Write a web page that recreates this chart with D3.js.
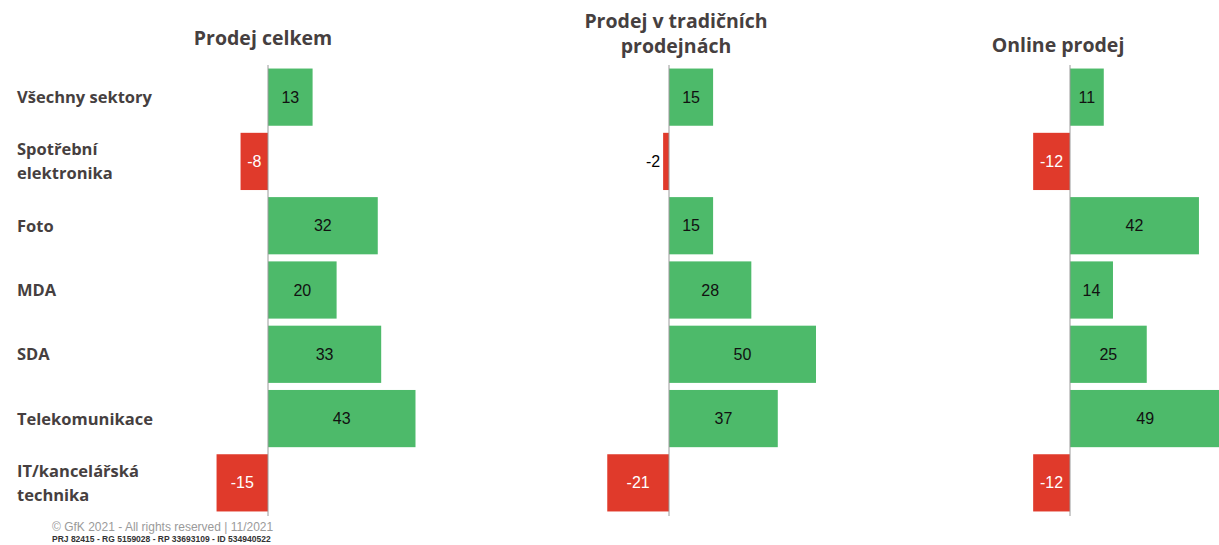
<!DOCTYPE html>
<html>
<head>
	<meta charset="utf-8">
	<title>Prodej - GfK</title>
	<script src="https://d3js.org/d3.v7.min.js"></script>
	<style>
		body { margin: 0; background: #fff; }
	</style>
</head>
<body>

<div id="viz"></div>

<script>

// categories and values (meziroční změna v %)
var categories = ["Všechny sektory", "Spotřební elektronika", "Foto", "MDA", "SDA", "Telekomunikace", "IT/kancelářská technika"];
var categoryLines = [["Všechny sektory"], ["Spotřební", "elektronika"], ["Foto"], ["MDA"], ["SDA"], ["Telekomunikace"], ["IT/kancelářská", "technika"]];

var panelTitles = [["Prodej celkem"], ["Prodej v tradičních", "prodejnách"], ["Online prodej"]];

var totalSales = [13, -8, 32, 20, 33, 43, -15];
var storeSales = [15, -2, 15, 28, 50, 37, -21];
var onlineSales = [11, -12, 42, 14, 25, 49, -12];

var footerLines = ["© GfK 2021 - All rights reserved | 11/2021", "PRJ 82415 - RG 5159028 - RP 33693109 - ID 534940522"];

var width = 1219, height = 545;
var green = "#4dba6a", red = "#e03a2b", textDark = "#463f40";

var svg = d3.select("#viz")
	.append("svg")
		.attr("width", width)
		.attr("height", height);

// shared row scale
var y = d3.scaleBand()
	.domain(categories)
	.range([65, 515])
	.paddingInner(0.11)
	.paddingOuter(0.055);

// each panel: zero position and px per unit
var panels = [
	{ values: totalSales, zero: 268, k: 3.43, titleX: 263, titleY: [45] },
	{ values: storeSales, zero: 669, k: 2.94, titleX: 676, titleY: [28, 53] },
	{ values: onlineSales, zero: 1070, k: 3.07, titleX: 1058, titleY: [52] }
];

// row labels
var labels = svg.append("g");
categories.forEach(function(c, i) {
	var lines = categoryLines[i];
	var cy = y(c) + y.bandwidth() / 2;
	var t = labels.append("text")
		.attr("x", 17)
		.attr("font-family", "Open Sans, sans-serif")
		.attr("font-weight", "bold")
		.attr("font-size", 16.5)
		.attr("fill", textDark);
	lines.forEach(function(l, j) {
		t.append("tspan")
			.attr("x", 17)
			.attr("y", cy + 6 + (j - (lines.length - 1) / 2) * 24)
			.text(l);
	});
});

panels.forEach(function(p, pi) {
	var x = d3.scaleLinear()
		.domain([0, 1])
		.range([p.zero, p.zero + p.k]);

	var g = svg.append("g");

	// title
	var title = g.append("text")
		.attr("text-anchor", "middle")
		.attr("font-family", "Open Sans, sans-serif")
		.attr("font-weight", "bold")
		.attr("font-size", 19.5)
		.attr("fill", textDark);
	panelTitles[pi].forEach(function(l, j) {
		title.append("tspan")
			.attr("x", p.titleX)
			.attr("y", p.titleY[j])
			.text(l);
	});

	var data = categories.map(function(c, i) { return { cat: c, value: p.values[i] }; });

	g.selectAll("rect")
		.data(data)
		.enter().append("rect")
			.attr("x", function(d) { return Math.min(x(0), x(d.value)); })
			.attr("y", function(d) { return y(d.cat); })
			.attr("width", function(d) { return Math.abs(x(d.value) - x(0)); })
			.attr("height", y.bandwidth())
			.attr("fill", function(d) { return d.value < 0 ? red : green; });

	// zero line
	g.append("line")
		.attr("x1", x(0)).attr("x2", x(0))
		.attr("y1", 65).attr("y2", 516)
		.attr("stroke", "#9a9a9a")
		.attr("stroke-width", 1);

	// value labels
	g.selectAll("text.val")
		.data(data)
		.enter().append("text")
			.attr("class", "val")
			.attr("font-family", "Liberation Sans, Arial, sans-serif")
			.attr("font-size", 16)
			.attr("y", function(d) { return y(d.cat) + y.bandwidth() / 2 + 5.5; })
			.attr("x", function(d) {
				var w = Math.abs(x(d.value) - x(0));
				if (w < 20) return x(d.value) - 3;
				return (x(0) + x(d.value)) / 2;
			})
			.attr("text-anchor", function(d) {
				return Math.abs(x(d.value) - x(0)) < 20 ? "end" : "middle";
			})
			.attr("fill", function(d) {
				if (Math.abs(x(d.value) - x(0)) < 20) return "#000";
				return d.value < 0 ? "#fff" : "#111";
			})
			.text(function(d) { return d.value; });
});

// footer
svg.append("text")
	.attr("x", 52).attr("y", 531)
	.attr("font-family", "Liberation Sans, Arial, sans-serif")
	.attr("font-size", 12)
	.attr("fill", "#9a9a9a")
	.text(footerLines[0]);

svg.append("text")
	.attr("x", 52).attr("y", 542)
	.attr("font-family", "Liberation Sans, Arial, sans-serif")
	.attr("font-size", 8.5)
	.attr("font-weight", "bold")
	.attr("fill", "#333")
	.text(footerLines[1]);

</script>

</body>
</html>
